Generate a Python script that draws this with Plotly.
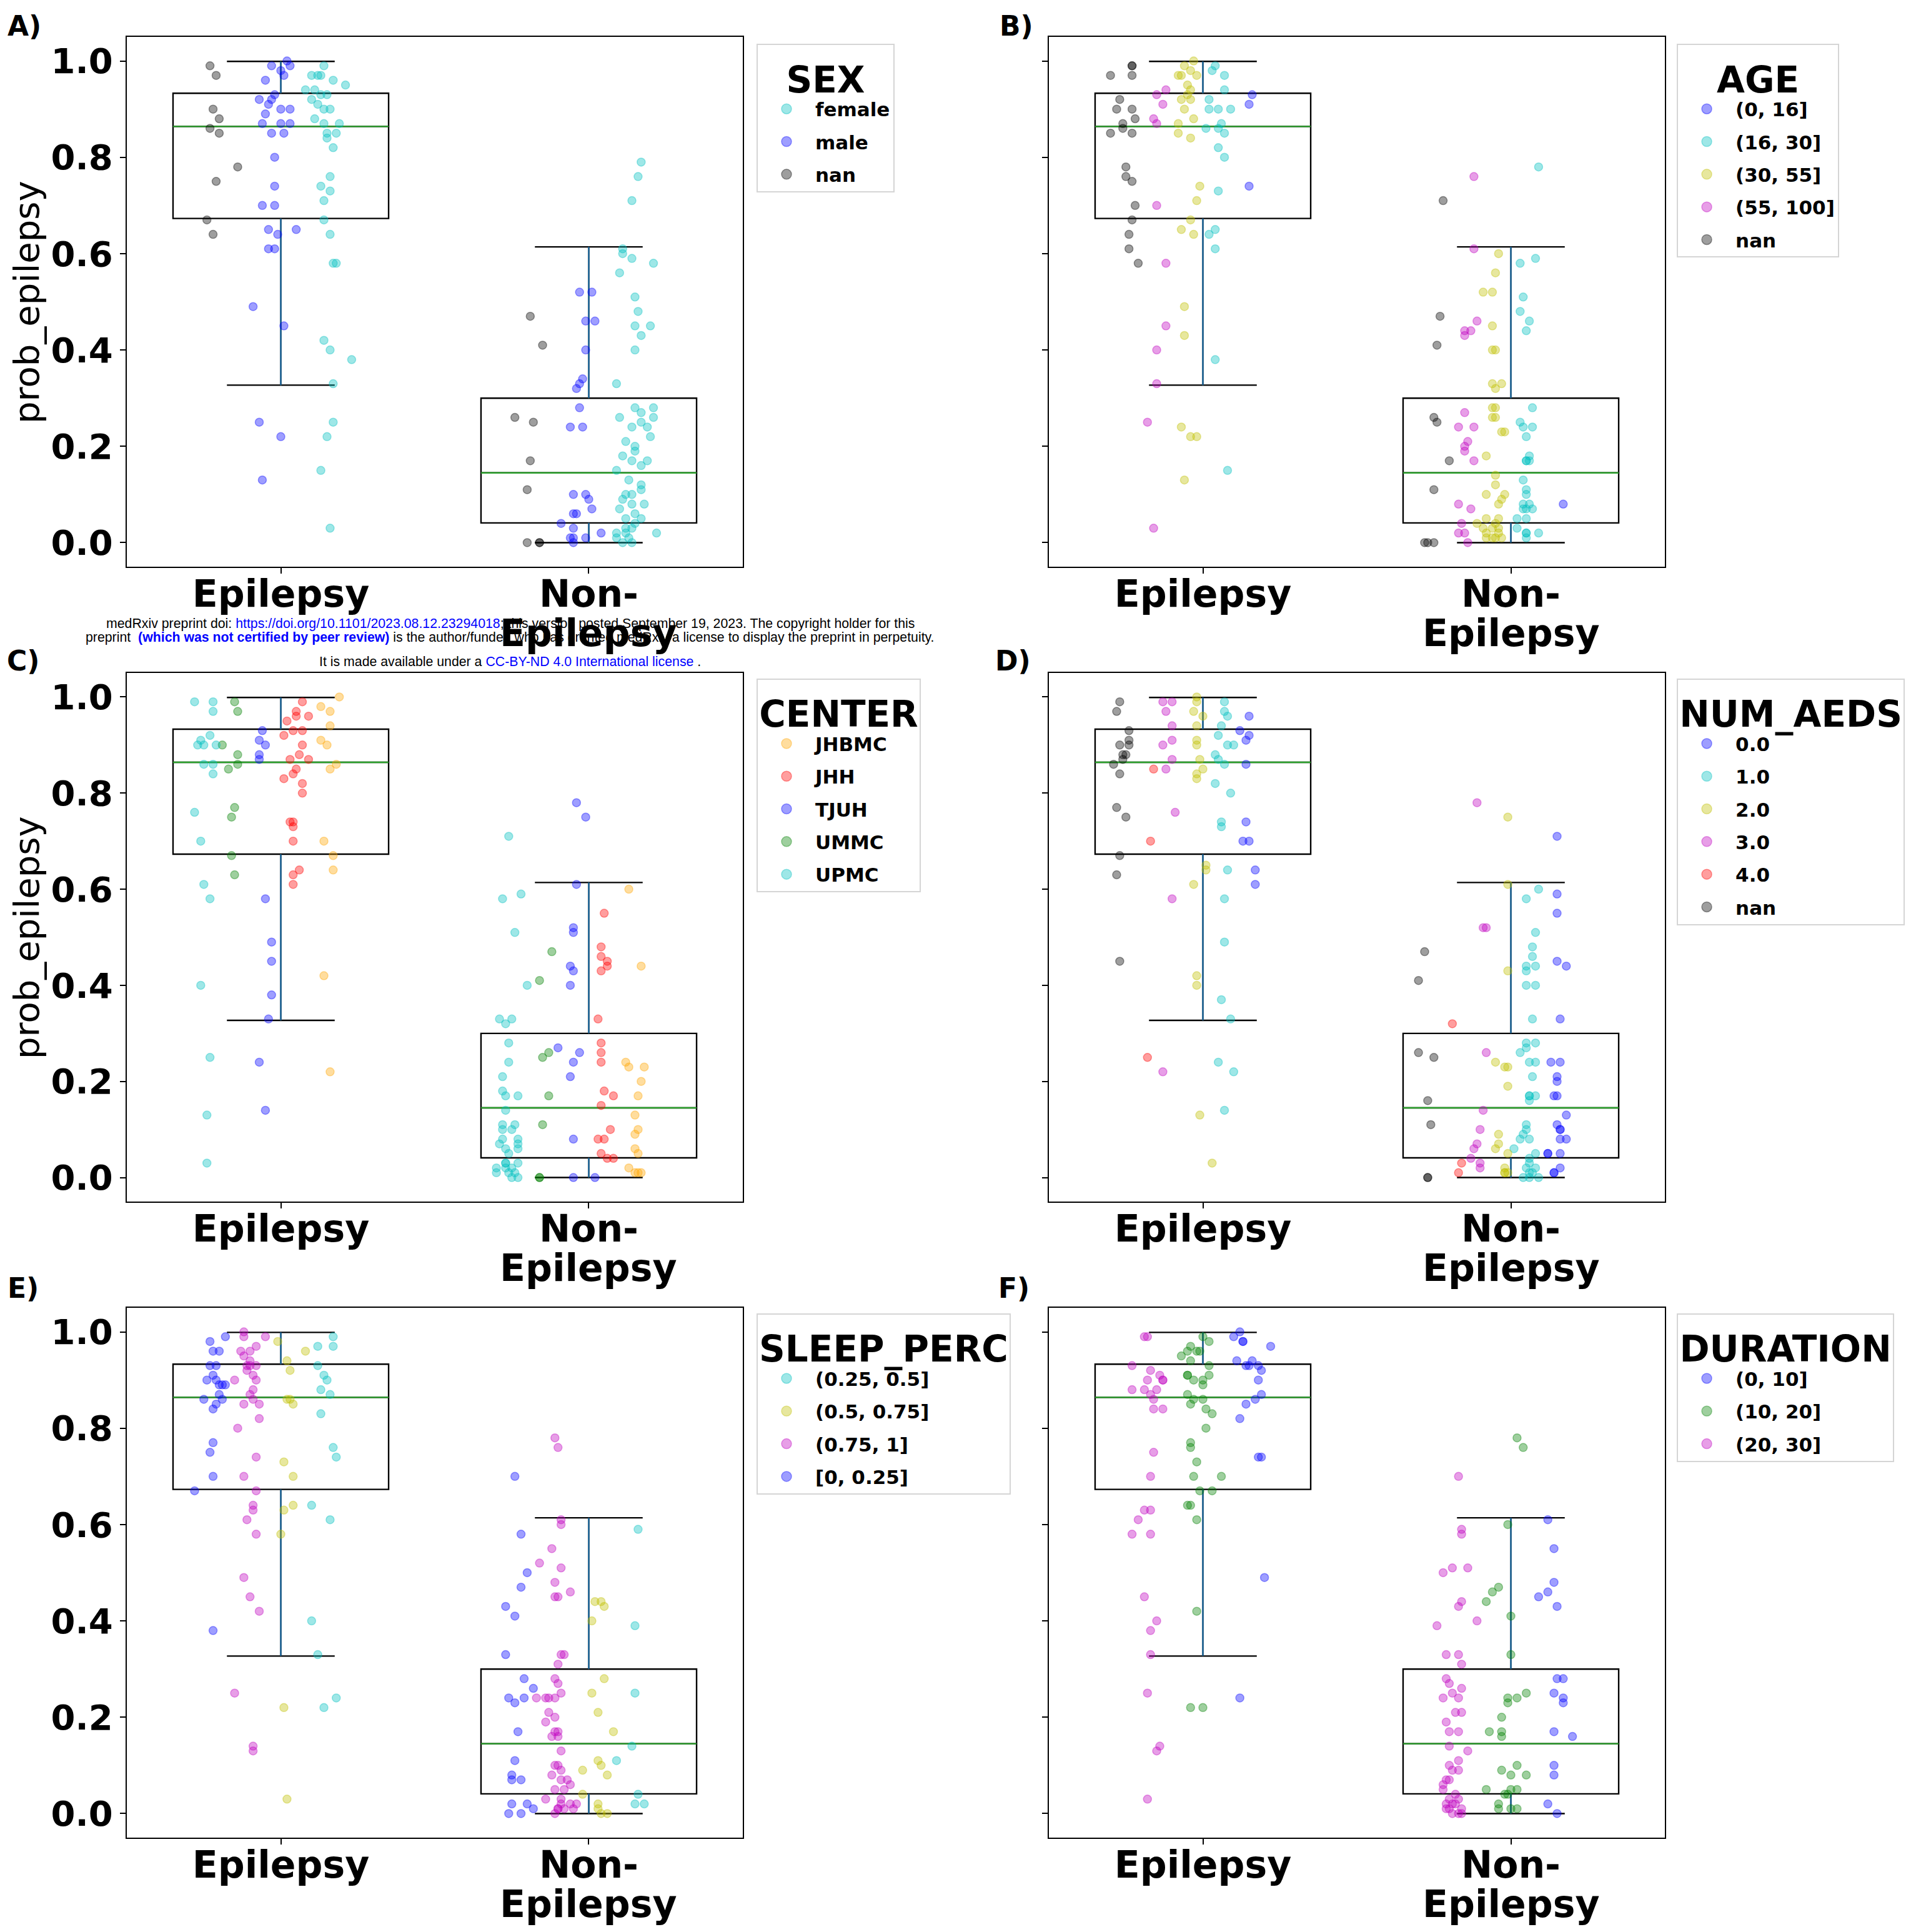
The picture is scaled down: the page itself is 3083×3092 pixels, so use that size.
import plotly.graph_objects as go

# ---------------- shared box statistics ----------------
tick_line1 = ["Epilepsy", "Non-"]
tick_line2 = ["", "Epilepsy"]
positions = [0, 1]
box_width = 0.7
box_q1 = [0.673, 0.041]
box_med = [0.864, 0.145]
box_q3 = [0.933, 0.300]
whisk_lo = [0.327, 0.0]
whisk_hi = [0.999, 0.614]

# ---------------- Panel A : SEX ----------------
A_female_epi_y = [0.99,0.97,0.97,0.97,0.96,0.95,0.94,0.94,0.93,0.93,0.92,0.91,0.90,0.90,0.88,0.87,0.87,0.85,0.85,0.84,0.82,0.76,0.74,0.73,0.71,0.67,0.64,0.58,0.58,0.42,0.40,0.38,0.33,0.25,0.22,0.15,0.03]
A_female_epi_jit = [0.14,0.10,0.12,0.13,0.17,0.21,0.08,0.11,0.13,0.15,0.10,0.12,0.14,0.16,0.11,0.14,0.19,0.18,0.15,0.15,0.17,0.16,0.13,0.16,0.14,0.14,0.16,0.18,0.17,0.14,0.16,0.23,0.17,0.17,0.15,0.13,0.16]
A_female_non_y = [0.79,0.76,0.71,0.61,0.60,0.59,0.58,0.56,0.51,0.48,0.45,0.45,0.43,0.40,0.33,0.28,0.28,0.27,0.26,0.26,0.24,0.25,0.24,0.22,0.21,0.20,0.19,0.18,0.17,0.17,0.16,0.15,0.13,0.12,0.11,0.10,0.10,0.09,0.08,0.08,0.07,0.06,0.05,0.05,0.04,0.03,0.03,0.02,0.02,0.02,0.01,0.01,0.0,0.0]
A_female_non_jit = [0.17,0.16,0.14,0.11,0.11,0.14,0.21,0.10,0.15,0.16,0.15,0.20,0.17,0.15,0.09,0.15,0.21,0.17,0.21,0.10,0.14,0.17,0.19,0.20,0.12,0.15,0.15,0.11,0.14,0.19,0.17,0.09,0.13,0.17,0.17,0.12,0.14,0.11,0.14,0.18,0.10,0.15,0.12,0.17,0.15,0.12,0.14,0.09,0.12,0.22,0.13,0.09,0.11,0.14]
A_male_epi_y = [0.99,1.00,0.99,0.98,0.97,0.96,0.93,0.92,0.91,0.92,0.90,0.90,0.89,0.87,0.87,0.87,0.85,0.85,0.80,0.74,0.70,0.70,0.65,0.64,0.65,0.61,0.61,0.49,0.45,0.25,0.22,0.13]
A_male_epi_jit = [-0.03,0.02,0.03,0.00,0.01,-0.05,-0.02,-0.07,-0.04,-0.03,0.00,0.03,-0.05,-0.06,0.00,0.03,-0.03,0.01,-0.02,-0.02,-0.06,-0.02,-0.04,-0.01,0.05,-0.04,-0.02,-0.09,0.01,-0.07,0.00,-0.06]
A_male_non_y = [0.52,0.52,0.46,0.46,0.40,0.33,0.34,0.32,0.28,0.24,0.24,0.10,0.10,0.09,0.07,0.06,0.06,0.04,0.03,0.01,0.01,0.0,0.01,0.02]
A_male_non_jit = [-0.03,0.01,-0.01,0.02,-0.01,-0.03,-0.02,-0.04,-0.03,-0.06,-0.02,-0.05,-0.01,0.00,0.01,-0.05,-0.04,-0.09,-0.05,-0.05,-0.06,-0.05,-0.01,0.04]
A_nan_epi_y = [0.99,0.97,0.90,0.88,0.86,0.85,0.78,0.75,0.67,0.64]
A_nan_epi_jit = [-0.23,-0.21,-0.22,-0.20,-0.23,-0.20,-0.14,-0.21,-0.24,-0.22]
A_nan_non_y = [0.47,0.41,0.26,0.25,0.17,0.11,0.0,0.0,0.0]
A_nan_non_jit = [-0.19,-0.15,-0.24,-0.18,-0.19,-0.20,-0.20,-0.16,-0.16]

# ---------------- Panel B : AGE ----------------
B_a016_epi_y = [0.93,0.91,0.74]
B_a016_epi_jit = [0.16,0.15,0.15]
B_a016_non_y = [0.08]
B_a016_non_jit = [0.17]
B_a1630_epi_y = [0.99,0.98,0.97,0.94,0.92,0.90,0.90,0.90,0.87,0.86,0.86,0.85,0.82,0.80,0.73,0.64,0.65,0.61,0.38,0.15]
B_a1630_epi_jit = [0.04,0.03,0.07,0.07,0.02,0.02,0.05,0.09,0.06,0.01,0.05,0.07,0.05,0.07,0.05,0.02,0.04,0.04,0.04,0.08]
B_a1630_non_y = [0.78,0.59,0.58,0.51,0.48,0.46,0.44,0.28,0.24,0.25,0.24,0.22,0.18,0.17,0.17,0.17,0.13,0.11,0.10,0.08,0.08,0.07,0.07,0.07,0.05,0.03,0.05,0.02,0.02,0.02,0.01]
B_a1630_non_jit = [0.09,0.08,0.03,0.04,0.03,0.06,0.05,0.07,0.04,0.03,0.07,0.05,0.06,0.05,0.05,0.06,0.04,0.05,0.05,0.04,0.06,0.04,0.05,0.07,0.02,0.02,0.05,0.05,0.05,0.09,0.05]
B_a3055_epi_y = [1.00,0.99,0.98,0.97,0.97,0.97,0.95,0.94,0.93,0.92,0.92,0.90,0.88,0.87,0.85,0.84,0.74,0.71,0.67,0.65,0.64,0.49,0.43,0.24,0.22,0.22,0.13]
B_a3055_epi_jit = [-0.03,-0.06,-0.04,-0.08,-0.07,-0.02,-0.05,-0.04,-0.05,-0.04,-0.07,-0.06,-0.03,-0.08,-0.08,-0.04,-0.01,-0.02,-0.04,-0.07,-0.03,-0.06,-0.06,-0.07,-0.04,-0.02,-0.06]
B_a3055_non_y = [0.60,0.56,0.52,0.52,0.45,0.40,0.40,0.33,0.33,0.32,0.28,0.28,0.26,0.26,0.23,0.23,0.18,0.14,0.12,0.10,0.10,0.09,0.08,0.05,0.05,0.04,0.04,0.03,0.03,0.03,0.02,0.02,0.01,0.01,0.01,0.01]
B_a3055_non_jit = [-0.04,-0.05,-0.09,-0.06,-0.06,-0.06,-0.05,-0.06,-0.03,-0.05,-0.06,-0.05,-0.06,-0.05,-0.03,-0.02,-0.08,-0.05,-0.05,-0.08,-0.02,-0.03,-0.04,-0.08,-0.04,-0.11,-0.05,-0.09,-0.06,-0.04,-0.08,-0.04,-0.08,-0.06,-0.05,-0.03]
B_a55100_epi_y = [0.94,0.93,0.91,0.88,0.87,0.70,0.58,0.45,0.40,0.33,0.25,0.03]
B_a55100_epi_jit = [-0.12,-0.15,-0.13,-0.16,-0.15,-0.15,-0.12,-0.12,-0.15,-0.15,-0.18,-0.16]
B_a55100_non_y = [0.76,0.61,0.46,0.44,0.44,0.43,0.27,0.24,0.24,0.21,0.20,0.19,0.17,0.08,0.07,0.04,0.02,0.02,0.0]
B_a55100_non_jit = [-0.12,-0.12,-0.11,-0.13,-0.15,-0.15,-0.15,-0.17,-0.12,-0.14,-0.15,-0.15,-0.12,-0.17,-0.13,-0.16,-0.17,-0.15,-0.14]
B_nan_epi_y = [0.99,0.99,0.97,0.97,0.92,0.90,0.90,0.88,0.87,0.86,0.85,0.85,0.78,0.76,0.75,0.70,0.67,0.64,0.61,0.58]
B_nan_epi_jit = [-0.23,-0.23,-0.30,-0.23,-0.27,-0.28,-0.23,-0.22,-0.26,-0.26,-0.30,-0.23,-0.25,-0.25,-0.23,-0.22,-0.23,-0.24,-0.24,-0.21]
B_nan_non_y = [0.71,0.47,0.41,0.26,0.25,0.17,0.11,0.0,0.0,0.0]
B_nan_non_jit = [-0.22,-0.23,-0.24,-0.25,-0.24,-0.20,-0.25,-0.28,-0.27,-0.25]

# ---------------- Panel C : CENTER ----------------
C_JHBMC_epi_y = [1.00,0.98,0.97,0.94,0.91,0.90,0.86,0.85,0.70,0.67,0.64,0.42,0.22]
C_JHBMC_epi_jit = [0.19,0.13,0.16,0.16,0.13,0.15,0.18,0.16,0.14,0.17,0.17,0.14,0.16]
C_JHBMC_non_y = [0.60,0.44,0.24,0.23,0.23,0.20,0.17,0.13,0.10,0.09,0.06,0.05,0.02,0.01,0.01,0.01]
C_JHBMC_non_jit = [0.13,0.17,0.12,0.13,0.18,0.17,0.16,0.15,0.16,0.15,0.15,0.16,0.13,0.15,0.17,0.16]
C_JHH_epi_y = [0.99,0.97,0.96,0.96,0.95,0.93,0.93,0.92,0.90,0.88,0.87,0.87,0.85,0.84,0.83,0.82,0.80,0.74,0.74,0.73,0.70,0.64,0.63,0.61]
C_JHH_epi_jit = [0.07,0.05,0.05,0.09,0.02,0.04,0.07,0.01,0.07,0.06,0.03,0.09,0.05,0.04,0.01,0.07,0.07,0.03,0.04,0.04,0.04,0.06,0.04,0.04]
C_JHH_non_y = [0.55,0.48,0.46,0.45,0.44,0.43,0.33,0.28,0.26,0.24,0.18,0.17,0.15,0.10,0.08,0.08,0.05,0.04,0.04]
C_JHH_non_jit = [0.05,0.04,0.04,0.06,0.06,0.04,0.03,0.04,0.04,0.04,0.05,0.08,0.04,0.07,0.05,0.03,0.04,0.06,0.08]
C_TJUH_epi_y = [0.93,0.91,0.90,0.88,0.87,0.58,0.49,0.45,0.38,0.33,0.24,0.14]
C_TJUH_epi_jit = [-0.06,-0.07,-0.05,-0.07,-0.07,-0.05,-0.03,-0.03,-0.03,-0.04,-0.07,-0.05]
C_TJUH_non_y = [0.78,0.75,0.61,0.52,0.51,0.44,0.43,0.40,0.27,0.26,0.24,0.21,0.08,0.0,0.0]
C_TJUH_non_jit = [-0.04,-0.01,-0.04,-0.05,-0.05,-0.06,-0.05,-0.06,-0.10,-0.03,-0.05,-0.06,-0.05,-0.05,0.02]
C_UMMC_epi_y = [0.99,0.97,0.90,0.88,0.86,0.85,0.77,0.75,0.67,0.63]
C_UMMC_epi_jit = [-0.15,-0.14,-0.19,-0.14,-0.14,-0.17,-0.15,-0.16,-0.16,-0.15]
C_UMMC_non_y = [0.47,0.41,0.26,0.25,0.17,0.11,0.0,0.0]
C_UMMC_non_jit = [-0.12,-0.16,-0.13,-0.15,-0.13,-0.15,-0.16,-0.16]
C_UPMC_epi_y = [0.99,0.99,0.97,0.92,0.91,0.90,0.90,0.90,0.86,0.86,0.84,0.76,0.70,0.61,0.58,0.40,0.25,0.13,0.03]
C_UPMC_epi_jit = [-0.28,-0.22,-0.22,-0.23,-0.26,-0.27,-0.25,-0.21,-0.25,-0.22,-0.22,-0.28,-0.26,-0.25,-0.23,-0.26,-0.23,-0.24,-0.24]
C_UPMC_non_y = [0.71,0.58,0.59,0.51,0.40,0.33,0.33,0.32,0.28,0.24,0.21,0.18,0.17,0.17,0.14,0.11,0.10,0.11,0.10,0.08,0.08,0.07,0.07,0.06,0.06,0.05,0.03,0.03,0.02,0.02,0.02,0.01,0.01,0.01,0.0,0.0,0.03]
C_UPMC_non_jit = [-0.26,-0.28,-0.22,-0.24,-0.20,-0.29,-0.25,-0.27,-0.26,-0.26,-0.28,-0.28,-0.27,-0.23,-0.27,-0.28,-0.28,-0.24,-0.25,-0.23,-0.28,-0.29,-0.23,-0.23,-0.27,-0.26,-0.27,-0.23,-0.30,-0.27,-0.25,-0.24,-0.30,-0.26,-0.23,-0.25,-0.27]

# ---------------- Panel D : NUM_AEDS ----------------
D_a0_epi_y = [0.96,0.93,0.92,0.91,0.86,0.74,0.70,0.70,0.64,0.61]
D_a0_epi_jit = [0.15,0.12,0.15,0.14,0.14,0.14,0.13,0.15,0.17,0.17]
D_a0_non_y = [0.71,0.59,0.55,0.45,0.44,0.33,0.24,0.24,0.21,0.20,0.17,0.17,0.13,0.11,0.10,0.10,0.08,0.08,0.05,0.05,0.05,0.02,0.01,0.01]
D_a0_non_jit = [0.15,0.15,0.15,0.15,0.18,0.16,0.13,0.16,0.15,0.15,0.14,0.15,0.18,0.15,0.16,0.16,0.16,0.18,0.16,0.12,0.12,0.16,0.14,0.14]
D_a1_epi_y = [0.99,0.97,0.96,0.94,0.92,0.90,0.90,0.88,0.87,0.86,0.82,0.80,0.74,0.73,0.64,0.58,0.49,0.37,0.33,0.24,0.22,0.14]
D_a1_epi_jit = [0.07,0.07,0.08,0.06,0.05,0.08,0.10,0.04,0.05,0.07,0.04,0.09,0.06,0.06,0.08,0.07,0.07,0.06,0.09,0.05,0.10,0.07]
D_a1_non_y = [0.60,0.58,0.51,0.48,0.46,0.44,0.44,0.43,0.40,0.40,0.33,0.28,0.28,0.27,0.26,0.24,0.24,0.21,0.17,0.17,0.17,0.16,0.11,0.10,0.09,0.08,0.08,0.06,0.04,0.05,0.03,0.02,0.02,0.01,0.0,0.0,0.0,0.01]
D_a1_non_jit = [0.09,0.05,0.08,0.07,0.07,0.05,0.08,0.05,0.08,0.05,0.07,0.05,0.08,0.05,0.03,0.06,0.08,0.07,0.06,0.08,0.06,0.06,0.05,0.05,0.04,0.06,0.03,0.01,0.06,0.08,0.06,0.08,0.05,0.06,0.04,0.06,0.09,0.07]
D_a2_epi_y = [1.00,0.99,0.97,0.96,0.94,0.91,0.90,0.87,0.85,0.84,0.83,0.65,0.64,0.61,0.42,0.40,0.13,0.03]
D_a2_epi_jit = [-0.02,-0.02,-0.03,0.0,-0.02,-0.02,-0.02,-0.01,0.0,-0.02,-0.02,0.01,0.01,-0.03,-0.02,-0.02,-0.01,0.03]
D_a2_non_y = [0.75,0.61,0.43,0.24,0.23,0.23,0.19,0.09,0.07,0.06,0.05,0.02,0.01,0.01,0.01]
D_a2_non_jit = [-0.01,-0.01,-0.01,-0.05,-0.02,-0.01,-0.01,-0.04,-0.04,-0.05,-0.01,-0.02,-0.02,-0.02,-0.01]
D_a3_epi_y = [0.99,0.99,0.97,0.94,0.91,0.90,0.87,0.85,0.76,0.58,0.22]
D_a3_epi_jit = [-0.13,-0.10,-0.12,-0.10,-0.10,-0.13,-0.10,-0.12,-0.09,-0.10,-0.13]
D_a3_non_y = [0.78,0.52,0.52,0.26,0.14,0.10,0.06,0.07,0.04,0.03,0.02]
D_a3_non_jit = [-0.11,-0.09,-0.08,-0.08,-0.09,-0.10,-0.12,-0.11,-0.13,-0.10,-0.10]
D_a4_epi_y = [0.85,0.70,0.25]
D_a4_epi_jit = [-0.16,-0.17,-0.18]
D_a4_non_y = [0.32,0.01,0.03]
D_a4_non_jit = [-0.19,-0.17,-0.16]
D_nan_epi_y = [0.99,0.97,0.93,0.91,0.90,0.90,0.88,0.88,0.87,0.86,0.84,0.77,0.75,0.67,0.63,0.45]
D_nan_epi_jit = [-0.27,-0.28,-0.24,-0.24,-0.27,-0.24,-0.26,-0.25,-0.26,-0.29,-0.27,-0.28,-0.25,-0.27,-0.28,-0.27]
D_nan_non_y = [0.47,0.41,0.26,0.25,0.16,0.11,0.0,0.0]
D_nan_non_jit = [-0.28,-0.30,-0.30,-0.25,-0.27,-0.26,-0.27,-0.27]

# ---------------- Panel E : SLEEP_PERC ----------------
E_s2550_epi_y = [0.99,0.97,0.97,0.93,0.91,0.90,0.88,0.87,0.83,0.76,0.74,0.64,0.61,0.40,0.33,0.24,0.22]
E_s2550_epi_jit = [0.17,0.17,0.12,0.12,0.14,0.15,0.13,0.16,0.13,0.17,0.18,0.10,0.16,0.10,0.12,0.18,0.14]
E_s2550_non_y = [0.59,0.39,0.25,0.14,0.11,0.04,0.02,0.02]
E_s2550_non_jit = [0.16,0.15,0.15,0.14,0.09,0.16,0.18,0.15]
E_s5075_epi_y = [0.98,0.94,0.96,0.92,0.86,0.86,0.85,0.73,0.70,0.64,0.63,0.58,0.22,0.03]
E_s5075_epi_jit = [-0.01,0.02,0.08,0.03,0.02,0.03,0.04,0.01,0.04,0.04,0.01,0.00,0.01,0.02]
E_s5075_non_y = [0.44,0.44,0.43,0.40,0.28,0.25,0.21,0.17,0.11,0.10,0.09,0.08,0.04,0.02,0.01,0.0,0.0]
E_s5075_non_jit = [0.02,0.04,0.05,0.01,0.05,0.01,0.03,0.08,0.03,0.04,-0.02,0.06,-0.02,0.03,0.03,0.04,0.06]
E_s751_epi_y = [1.00,0.99,0.99,0.97,0.96,0.96,0.95,0.94,0.93,0.93,0.93,0.92,0.91,0.90,0.90,0.88,0.87,0.86,0.85,0.85,0.82,0.80,0.74,0.70,0.67,0.64,0.63,0.61,0.58,0.49,0.45,0.42,0.25,0.14,0.13]
E_s751_epi_jit = [-0.12,-0.12,-0.05,-0.08,-0.13,-0.10,-0.12,-0.10,-0.11,-0.08,-0.10,-0.11,-0.09,-0.08,-0.15,-0.09,-0.10,-0.09,-0.12,-0.07,-0.07,-0.14,-0.08,-0.12,-0.08,-0.09,-0.09,-0.11,-0.08,-0.12,-0.10,-0.07,-0.15,-0.09,-0.09]
E_s751_non_y = [0.78,0.76,0.61,0.60,0.55,0.52,0.51,0.48,0.45,0.45,0.46,0.33,0.33,0.31,0.28,0.27,0.25,0.24,0.24,0.24,0.24,0.21,0.20,0.19,0.17,0.17,0.16,0.16,0.13,0.10,0.10,0.09,0.08,0.07,0.07,0.06,0.05,0.05,0.03,0.03,0.02,0.02,0.02,0.01,0.01,0.0,0.01,0.01]
E_s751_non_jit = [-0.11,-0.10,-0.09,-0.09,-0.12,-0.16,-0.09,-0.11,-0.11,-0.10,-0.06,-0.08,-0.09,-0.10,-0.11,-0.10,-0.09,-0.17,-0.13,-0.14,-0.11,-0.13,-0.11,-0.14,-0.10,-0.11,-0.12,-0.10,-0.09,-0.11,-0.10,-0.09,-0.12,-0.09,-0.07,-0.06,-0.11,-0.08,-0.14,-0.09,-0.09,-0.06,-0.04,-0.10,-0.05,-0.11,-0.10,-0.08]
E_s025_epi_y = [0.99,0.98,0.96,0.96,0.93,0.93,0.91,0.90,0.90,0.89,0.89,0.89,0.87,0.86,0.86,0.85,0.84,0.77,0.75,0.70,0.67,0.38]
E_s025_epi_jit = [-0.18,-0.23,-0.22,-0.20,-0.23,-0.21,-0.22,-0.21,-0.24,-0.20,-0.19,-0.18,-0.20,-0.19,-0.25,-0.21,-0.22,-0.22,-0.23,-0.22,-0.28,-0.22]
E_s025_non_y = [0.70,0.58,0.50,0.47,0.43,0.41,0.33,0.28,0.26,0.24,0.24,0.23,0.17,0.11,0.08,0.07,0.07,0.02,0.02,0.0,0.0,0.01]
E_s025_non_jit = [-0.24,-0.22,-0.20,-0.22,-0.27,-0.24,-0.27,-0.21,-0.18,-0.21,-0.26,-0.24,-0.23,-0.24,-0.25,-0.25,-0.22,-0.25,-0.20,-0.26,-0.22,-0.18]

# ---------------- Panel F : DURATION ----------------
F_d010_epi_y = [1.00,0.99,0.98,0.98,0.97,0.94,0.93,0.94,0.93,0.93,0.92,0.90,0.87,0.86,0.85,0.82,0.74,0.74,0.49,0.24]
F_d010_epi_jit = [0.12,0.10,0.13,0.13,0.22,0.11,0.14,0.16,0.15,0.18,0.19,0.18,0.19,0.17,0.14,0.12,0.18,0.19,0.20,0.12]
F_d010_non_y = [0.61,0.55,0.48,0.46,0.45,0.43,0.28,0.28,0.25,0.24,0.23,0.17,0.16,0.10,0.08,0.02,0.0]
F_d010_non_jit = [0.12,0.14,0.14,0.12,0.09,0.15,0.15,0.17,0.14,0.17,0.17,0.14,0.20,0.14,0.14,0.12,0.15]
F_d1020_epi_y = [0.97,0.98,0.96,0.96,0.96,0.95,0.94,0.93,0.91,0.91,0.90,0.90,0.89,0.91,0.87,0.86,0.86,0.85,0.84,0.83,0.80,0.77,0.76,0.73,0.70,0.70,0.67,0.67,0.64,0.64,0.61,0.42,0.22,0.22,0.99]
F_d1020_epi_jit = [-0.04,0.02,-0.05,-0.02,-0.01,-0.07,-0.04,0.02,-0.05,-0.05,-0.03,0.00,0.00,0.02,-0.05,-0.03,0.00,-0.04,0.01,0.03,0.01,-0.04,-0.04,-0.02,-0.03,0.06,0.03,-0.01,-0.05,-0.04,-0.02,-0.02,-0.04,0.00,0.00]
F_d1020_non_y = [0.78,0.76,0.60,0.47,0.46,0.44,0.41,0.33,0.25,0.24,0.24,0.23,0.20,0.17,0.17,0.16,0.10,0.09,0.08,0.08,0.05,0.05,0.05,0.04,0.04,0.02,0.01,0.01,0.01]
F_d1020_non_jit = [0.02,0.04,-0.01,-0.04,-0.06,-0.08,0.00,0.00,0.05,0.02,-0.01,-0.01,-0.03,-0.07,-0.03,-0.03,0.02,-0.03,0.00,0.05,0.02,0.00,-0.08,-0.02,-0.01,-0.04,-0.04,0.00,0.02]
F_d2030_epi_y = [0.99,0.99,0.93,0.92,0.91,0.90,0.90,0.90,0.88,0.88,0.88,0.87,0.86,0.84,0.84,0.75,0.70,0.63,0.63,0.61,0.58,0.58,0.45,0.40,0.38,0.33,0.25,0.14,0.13,0.03]
F_d2030_epi_jit = [-0.19,-0.18,-0.23,-0.17,-0.14,-0.18,-0.13,-0.13,-0.19,-0.23,-0.15,-0.17,-0.16,-0.16,-0.13,-0.16,-0.17,-0.19,-0.17,-0.21,-0.23,-0.17,-0.19,-0.15,-0.17,-0.17,-0.18,-0.14,-0.15,-0.18]
F_d2030_non_y = [0.70,0.59,0.58,0.50,0.51,0.51,0.44,0.43,0.40,0.39,0.33,0.33,0.31,0.28,0.27,0.26,0.25,0.24,0.24,0.21,0.21,0.19,0.17,0.17,0.14,0.13,0.11,0.10,0.09,0.09,0.07,0.06,0.07,0.05,0.04,0.03,0.03,0.02,0.02,0.01,0.01,0.0,0.0,0.0,0.01,0.02]
F_d2030_non_jit = [-0.17,-0.16,-0.16,-0.22,-0.19,-0.14,-0.16,-0.17,-0.11,-0.24,-0.21,-0.17,-0.16,-0.21,-0.20,-0.16,-0.19,-0.17,-0.22,-0.18,-0.16,-0.21,-0.20,-0.17,-0.20,-0.14,-0.17,-0.20,-0.19,-0.17,-0.21,-0.22,-0.20,-0.22,-0.18,-0.20,-0.17,-0.21,-0.19,-0.16,-0.21,-0.19,-0.17,-0.16,-0.20,-0.18]

# ---------------- colours ----------------
BLUE = (0, 0, 255)
CYAN = (0, 191, 191)
GRAY = (0, 0, 0)
YELLOW = (191, 191, 0)
MAGENTA = (191, 0, 191)
GREEN = (0, 128, 0)
RED = (255, 0, 0)
ORANGE = (255, 165, 0)

panels = [
    ("A)", "SEX", [
        ("female", CYAN, A_female_epi_y, A_female_epi_jit, A_female_non_y, A_female_non_jit),
        ("male", BLUE, A_male_epi_y, A_male_epi_jit, A_male_non_y, A_male_non_jit),
        ("nan", GRAY, A_nan_epi_y, A_nan_epi_jit, A_nan_non_y, A_nan_non_jit)]),
    ("B)", "AGE", [
        ("(0, 16]", BLUE, B_a016_epi_y, B_a016_epi_jit, B_a016_non_y, B_a016_non_jit),
        ("(16, 30]", CYAN, B_a1630_epi_y, B_a1630_epi_jit, B_a1630_non_y, B_a1630_non_jit),
        ("(30, 55]", YELLOW, B_a3055_epi_y, B_a3055_epi_jit, B_a3055_non_y, B_a3055_non_jit),
        ("(55, 100]", MAGENTA, B_a55100_epi_y, B_a55100_epi_jit, B_a55100_non_y, B_a55100_non_jit),
        ("nan", GRAY, B_nan_epi_y, B_nan_epi_jit, B_nan_non_y, B_nan_non_jit)]),
    ("C)", "CENTER", [
        ("JHBMC", ORANGE, C_JHBMC_epi_y, C_JHBMC_epi_jit, C_JHBMC_non_y, C_JHBMC_non_jit),
        ("JHH", RED, C_JHH_epi_y, C_JHH_epi_jit, C_JHH_non_y, C_JHH_non_jit),
        ("TJUH", BLUE, C_TJUH_epi_y, C_TJUH_epi_jit, C_TJUH_non_y, C_TJUH_non_jit),
        ("UMMC", GREEN, C_UMMC_epi_y, C_UMMC_epi_jit, C_UMMC_non_y, C_UMMC_non_jit),
        ("UPMC", CYAN, C_UPMC_epi_y, C_UPMC_epi_jit, C_UPMC_non_y, C_UPMC_non_jit)]),
    ("D)", "NUM_AEDS", [
        ("0.0", BLUE, D_a0_epi_y, D_a0_epi_jit, D_a0_non_y, D_a0_non_jit),
        ("1.0", CYAN, D_a1_epi_y, D_a1_epi_jit, D_a1_non_y, D_a1_non_jit),
        ("2.0", YELLOW, D_a2_epi_y, D_a2_epi_jit, D_a2_non_y, D_a2_non_jit),
        ("3.0", MAGENTA, D_a3_epi_y, D_a3_epi_jit, D_a3_non_y, D_a3_non_jit),
        ("4.0", RED, D_a4_epi_y, D_a4_epi_jit, D_a4_non_y, D_a4_non_jit),
        ("nan", GRAY, D_nan_epi_y, D_nan_epi_jit, D_nan_non_y, D_nan_non_jit)]),
    ("E)", "SLEEP_PERC", [
        ("(0.25, 0.5]", CYAN, E_s2550_epi_y, E_s2550_epi_jit, E_s2550_non_y, E_s2550_non_jit),
        ("(0.5, 0.75]", YELLOW, E_s5075_epi_y, E_s5075_epi_jit, E_s5075_non_y, E_s5075_non_jit),
        ("(0.75, 1]", MAGENTA, E_s751_epi_y, E_s751_epi_jit, E_s751_non_y, E_s751_non_jit),
        ("[0, 0.25]", BLUE, E_s025_epi_y, E_s025_epi_jit, E_s025_non_y, E_s025_non_jit)]),
    ("F)", "DURATION", [
        ("(0, 10]", BLUE, F_d010_epi_y, F_d010_epi_jit, F_d010_non_y, F_d010_non_jit),
        ("(10, 20]", GREEN, F_d1020_epi_y, F_d1020_epi_jit, F_d1020_non_y, F_d1020_non_jit),
        ("(20, 30]", MAGENTA, F_d2030_epi_y, F_d2030_epi_jit, F_d2030_non_y, F_d2030_non_jit)]),
]

# ---------------- layout geometry (paper fractions) ----------------
W, H = 3083, 3092
col_x = [[0.06585, 0.38566], [0.54460, 0.86442]]
row_y = [[0.70666, 0.98092], [0.37807, 0.65168], [0.04884, 0.32309]]
legend_pos = [(0.3928, 0.9773), (0.8706, 0.9773), (0.3928, 0.6488),
              (0.8706, 0.6488), (0.3928, 0.3202), (0.8706, 0.3202)]
letter_pos = [(0.0127, 0.9867), (0.5277, 0.9867), (0.0120, 0.6581),
              (0.5258, 0.6581), (0.0120, 0.3334), (0.5264, 0.3334)]
SECOND_LINE_DROP = 106  # px below the axis line

FONT = "DejaVu Sans"
ALPHA = 0.38


def rgba(c, a):
    return f"rgba({c[0]},{c[1]},{c[2]},{a})"


fig = go.Figure()
layout = dict(width=W, height=H, margin=dict(l=0, r=0, t=0, b=0),
              paper_bgcolor="white", plot_bgcolor="white", showlegend=True,
              annotations=[])

for i, (letter, title, cats) in enumerate(panels):
    n = i + 1
    r, c = divmod(i, 2)
    xa = "x" if n == 1 else f"x{n}"
    ya = "y" if n == 1 else f"y{n}"
    leg = "legend" if n == 1 else f"legend{n}"

    # box (black), then blue whiskers and green medians over it
    fig.add_trace(go.Box(x=positions, q1=box_q1, median=box_med, q3=box_q3,
                         lowerfence=whisk_lo, upperfence=whisk_hi,
                         width=box_width, whiskerwidth=0.5,
                         line=dict(color="black", width=2.4),
                         fillcolor="rgba(0,0,0,0)", boxpoints=False,
                         showlegend=False, hoverinfo="skip",
                         xaxis=xa, yaxis=ya))
    wx, wy, mx, my = [], [], [], []
    for k, p in enumerate(positions):
        wx += [p, p, None, p, p, None]
        wy += [box_q3[k], whisk_hi[k], None, whisk_lo[k], box_q1[k], None]
        mx += [p - box_width / 2, p + box_width / 2, None]
        my += [box_med[k], box_med[k], None]
    fig.add_trace(go.Scatter(x=wx, y=wy, mode="lines",
                             line=dict(color="#1f77b4", width=2),
                             showlegend=False, hoverinfo="skip",
                             xaxis=xa, yaxis=ya))
    fig.add_trace(go.Scatter(x=mx, y=my, mode="lines",
                             line=dict(color="#2ca02c", width=2.4),
                             showlegend=False, hoverinfo="skip",
                             xaxis=xa, yaxis=ya))

    # jittered points per category
    for name, col, ey, ej, ny, nj in cats:
        xs = [positions[0] + j for j, _ in zip(ej, ey)] + [positions[1] + j for j, _ in zip(nj, ny)]
        ys = [v for _, v in zip(ej, ey)] + [v for _, v in zip(nj, ny)]
        grp = f"{n}_{name}"
        fig.add_trace(go.Scatter(
            x=xs, y=ys, mode="markers", name=name,
            legend=leg, legendgroup=grp, showlegend=False,
            marker=dict(size=13, color=rgba(col, ALPHA),
                        line=dict(color=rgba(col, ALPHA), width=1.5)),
            xaxis=xa, yaxis=ya))
        # legend entry (larger symbol, like the reference legend)
        fig.add_trace(go.Scatter(
            x=[None], y=[None], mode="markers", name=name,
            legend=leg, legendgroup=grp, showlegend=True,
            marker=dict(size=22, color=rgba(col, ALPHA),
                        line=dict(color=rgba(col, ALPHA), width=1.5)),
            xaxis=xa, yaxis=ya))

    # axes
    axis_common = dict(showline=True, mirror=True, linecolor="black", linewidth=2,
                       ticks="outside", ticklen=9, tickwidth=2, tickcolor="black",
                       showgrid=False, zeroline=False)
    layout["xaxis" if n == 1 else f"xaxis{n}"] = dict(
        domain=col_x[c], anchor=ya, range=[-0.5, 1.5],
        tickmode="array", tickvals=positions, ticktext=[f"<b>{t}</b>" for t in tick_line1],
        tickfont=dict(family=FONT, size=60, color="black"),
        ticklabelstandoff=-19, **axis_common)
    layout["yaxis" if n == 1 else f"yaxis{n}"] = dict(
        domain=row_y[r], anchor=xa, range=[-0.05, 1.05],
        tickmode="array", tickvals=[0, 0.2, 0.4, 0.6, 0.8, 1.0],
        ticktext=["<b>0.0</b>", "<b>0.2</b>", "<b>0.4</b>", "<b>0.6</b>", "<b>0.8</b>", "<b>1.0</b>"],
        showticklabels=(c == 0),
        tickfont=dict(family=FONT, size=56, color="black"),
        ticklabelstandoff=0, **axis_common)

    # second line of the category labels
    for p, t in zip(positions, tick_line2):
        if t:
            layout["annotations"].append(dict(
                text=f"<b>{t}</b>", x=p, xref=xa,
                y=row_y[r][0] - SECOND_LINE_DROP / H, yref="paper",
                xanchor="center", yanchor="middle", showarrow=False,
                font=dict(family=FONT, size=60, color="black")))

    # legend
    lx, ly = legend_pos[i]
    layout[leg] = dict(
        x=lx, y=ly, xanchor="left", yanchor="top",
        bgcolor="white", bordercolor="#d5d5d5", borderwidth=2,
        font=dict(family=FONT, size=31, color="black", weight="bold"),
        title=dict(text=f"<b>{title}</b>", side="top center",
                   font=dict(family=FONT, size=58, color="black")),
        tracegroupgap=9, itemwidth=82, itemsizing="trace")

    # panel letter
    px, py = letter_pos[i]
    layout["annotations"].append(dict(
        text=f"<b>{letter}</b>", x=px, y=py, xref="paper", yref="paper",
        xanchor="center", yanchor="middle", showarrow=False,
        font=dict(family=FONT, size=44, color="black")))

# y-axis titles (left column, rows 1 and 2)
for r in [0, 1]:
    layout["annotations"].append(dict(
        text="prob_epilepsy", x=0.0136, y=(row_y[r][0] + row_y[r][1]) / 2,
        xref="paper", yref="paper", textangle=-90, showarrow=False,
        xanchor="center", yanchor="middle",
        font=dict(family=FONT, size=56, color="black")))

# medRxiv header
hdr_font = dict(family="Liberation Sans", size=21.3, color="black")
header_lines = [
    ("medRxiv preprint doi: <span style='color:blue'>https://doi.org/10.1101/2023.08.12.23294018</span>; "
     "this version posted September 19, 2023. The copyright holder for this", 0.6772),
    ("preprint  <span style='color:blue'><b>(which was not certified by peer review)</b></span> is the "
     "author/funder, who has granted medRxiv a license to display the preprint in perpetuity.", 0.6701),
    ("It is made available under a <span style='color:blue'>CC-BY-ND 4.0 International license</span> .", 0.6575),
]
for txt, yy in header_lines:
    layout["annotations"].append(dict(
        text=txt, x=0.265, y=yy, xref="paper", yref="paper", showarrow=False,
        xanchor="center", yanchor="middle", font=hdr_font))

fig.update_layout(**layout)
fig.write_html("out.html", config={"displayModeBar": False},
               post_script="document.body.style.margin='0px';document.body.style.overflow='hidden';")
